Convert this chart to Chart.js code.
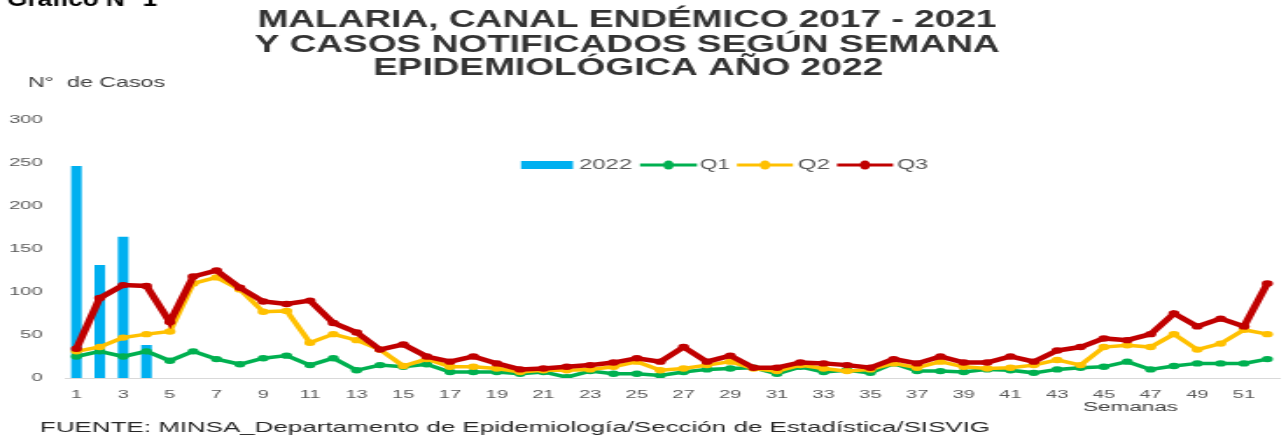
<!DOCTYPE html>
<html>
<head>
<meta charset="utf-8">
<script src="https://cdn.jsdelivr.net/npm/chart.js@4.4.1/dist/chart.umd.min.js"></script>
<style>
  html, body { margin: 0; padding: 0; background: #fff; overflow: hidden; }
  #grafico { display: block; }
</style>
</head>
<body>
<!-- the source picture is stretched sideways, so the canvas is drawn narrow and widened by css -->
<canvas id="grafico" width="735" height="437" style="width:1286px;height:437px"></canvas>
<script>
const semanas = ["1", "2", "3", "4", "5", "6", "7", "8", "9", "10", "11", "12", "13",
  "14", "15", "16", "17", "18", "19", "20", "21", "22", "23", "24", "25", "26",
  "27", "28", "29", "30", "31", "32", "33", "34", "35", "36", "37", "38", "39",
  "40", "41", "42", "43", "44", "45", "46", "47", "48", "49", "50", "51", "52"]

const casos2022 = [246, 131, 164, 38]

const q1 = [25, 31, 25, 31, 20, 31, 22, 16, 23, 26, 15, 23, 9, 15, 13, 16, 7, 7, 7, 5,
  7, 1, 8, 5, 5, 3, 7, 10, 11, 12, 5, 13, 7, 9, 6, 17, 8, 8, 7, 10,
  9, 6, 10, 12, 13, 19, 10, 14, 17, 17, 17, 22]

const q2 = [31, 36, 47, 51, 54, 110, 117, 103, 77, 78, 41, 51, 44, 33, 14, 22, 13, 13, 11, 7,
  9, 9, 10, 13, 19, 9, 11, 15, 19, 11, 8, 15, 11, 8, 10, 17, 12, 19, 13, 11,
  12, 15, 21, 15, 36, 38, 36, 51, 33, 40, 56, 51]

const q3 = [34, 93, 108, 107, 65, 118, 125, 105, 89, 86, 90, 64, 53, 33, 39, 25, 19, 25, 17, 10,
  11, 13, 15, 18, 23, 19, 36, 19, 26, 12, 12, 18, 17, 15, 12, 22, 17, 25, 18, 18,
  25, 19, 32, 36, 46, 44, 51, 75, 60, 69, 60, 110]

const yTicks = [0, 50, 100, 150, 200, 250, 300]

const titulo = [
  "MALARIA, CANAL ENDÉMICO 2017 - 2021",
  "Y CASOS NOTIFICADOS SEGÚN SEMANA",
  "EPIDEMIOLÓGICA AÑO 2022"
]

const SX = 1286 / 735
const FONT = "'Liberation Sans', Arial, sans-serif"

// draws text squeezed/stretched to a given width (display pixels)
function fitText(ctx, text, x, y, font, color, width, align) {
  ctx.font = font
  const w = ctx.measureText(text).width
  ctx.save()
  ctx.translate(x, y)
  ctx.scale(width / w, 1)
  ctx.fillStyle = color
  ctx.textAlign = "left"
  ctx.fillText(text, align === "center" ? -w / 2 : 0, 0)
  ctx.restore()
}

const textos = {
  id: "textos",
  afterDraw(chart) {
    const ctx = chart.ctx
    ctx.save()
    ctx.scale(1 / SX, 1)

    ctx.textBaseline = "alphabetic"
    fitText(ctx, "Gráfico N° 1", 7, 6, `bold 22px ${FONT}`, "#000", 150)

    ctx.textBaseline = "middle"
    fitText(ctx, titulo[0], 627, 21, `bold 23px ${FONT}`, "#333", 739, "center")
    fitText(ctx, titulo[1], 627, 46, `bold 23px ${FONT}`, "#333", 745, "center")
    fitText(ctx, titulo[2], 628, 69, `bold 23px ${FONT}`, "#333", 510, "center")

    fitText(ctx, "N°  de Casos", 28, 83, `15px ${FONT}`, "#404040", 137)
    fitText(ctx, "Semanas", 1083, 408, `12px ${FONT}`, "#404040", 95)
    fitText(ctx, "FUENTE: MINSA_Departamento de Epidemiología/Sección de Estadística/SISVIG",
      40, 428, `15px ${FONT}`, "#262626", 950)

    // legend
    const ds = chart.data.datasets
    const y = 165
    ctx.fillStyle = ds[0].backgroundColor
    ctx.fillRect(521, 161, 52, 8)
    fitText(ctx, ds[0].label, 579, y, `14px ${FONT}`, "#595959", 53)

    const items = [
      { i: 1, x0: 640, x1: 697, tx: 700, tw: 30 },
      { i: 2, x0: 737, x1: 793, tx: 798, tw: 32 },
      { i: 3, x0: 837, x1: 893, tx: 897, tw: 31 }
    ]
    items.forEach((it) => {
      const d = ds[it.i]
      ctx.strokeStyle = d.borderColor
      ctx.lineWidth = 3
      ctx.beginPath()
      ctx.moveTo(it.x0, y)
      ctx.lineTo(it.x1, y)
      ctx.stroke()
      ctx.fillStyle = d.borderColor
      ctx.beginPath()
      ctx.ellipse((it.x0 + it.x1) / 2, y, 5, 4.5, 0, 0, Math.PI * 2)
      ctx.fill()
      fitText(ctx, d.label, it.tx, y, `14px ${FONT}`, "#595959", it.tw)
    })

    ctx.restore()
  }
}

const lineStyle = (color, width) => ({
  type: "line",
  borderColor: color,
  backgroundColor: color,
  borderWidth: width,
  pointRadius: 3.2,
  pointBorderWidth: 0,
  pointBackgroundColor: color,
  tension: 0,
  fill: false
})

new Chart(document.getElementById("grafico"), {
  data: {
    labels: semanas,
    datasets: [
      {
        type: "bar",
        label: "2022",
        data: casos2022,
        backgroundColor: "#00b0f0",
        barThickness: 5.4,
        order: 4
      },
      { ...lineStyle("#00b050", 3.5), label: "Q1", data: q1, order: 3 },
      { ...lineStyle("#ffc000", 3.5), label: "Q2", data: q2, order: 2 },
      { ...lineStyle("#c00000", 4.5), label: "Q3", data: q3, order: 1 }
    ]
  },
  options: {
    responsive: false,
    animation: false,
    events: [],
    layout: { padding: { left: 4, right: 0, top: 120, bottom: 35 } },
    plugins: {
      legend: { display: false },
      tooltip: { enabled: false }
    },
    scales: {
      x: {
        offset: true,
        grid: { display: false, drawTicks: false },
        border: { display: true, color: "#d9d9d9", width: 1 },
        afterFit: (s) => { s.height = 24 },
        ticks: {
          autoSkip: false,
          maxRotation: 0,
          minRotation: 0,
          padding: 10,
          color: "#595959",
          font: { family: FONT, size: 11.5 },
          callback: (v, i) => (i % 2 === 0 ? semanas[i] : "")
        }
      },
      y: {
        min: 0,
        max: 300,
        grid: { display: false, drawTicks: false },
        border: { display: false },
        afterBuildTicks: (s) => { s.ticks = yTicks.map((v) => ({ value: v })) },
        afterFit: (s) => { s.width = 33 },
        ticks: {
          padding: 12.6,
          color: "#595959",
          font: { family: FONT, size: 11.5 }
        }
      }
    }
  },
  plugins: [textos]
})
</script>
</body>
</html>
